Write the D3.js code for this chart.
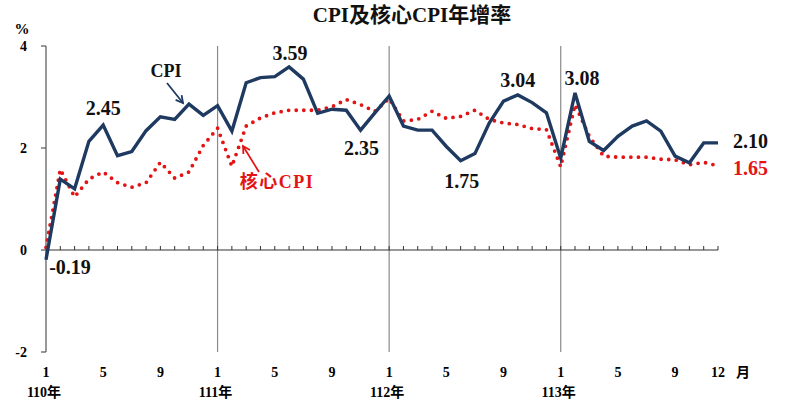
<!DOCTYPE html>
<html>
<head>
<meta charset="utf-8">
<script src="https://cdn.jsdelivr.net/npm/d3@7"></script>
<style>
  body { margin: 0; background: #fff; }
  svg text { font-family: "Liberation Serif", "Noto Sans CJK TC", serif; font-weight: bold; }
</style>
</head>
<body>
<svg id="chart" width="800" height="404"></svg>
<script>

// monthly year-on-year growth, 110/1 .. 113/12
var cpi = [-0.19, 1.39, 1.20, 2.13, 2.45, 1.85, 1.93, 2.34, 2.61, 2.56, 2.86, 2.64,
           2.83, 2.33, 3.28, 3.38, 3.40, 3.59, 3.35, 2.68, 2.76, 2.74, 2.35, 2.69,
           3.02, 2.43, 2.35, 2.35, 2.03, 1.75, 1.89, 2.49, 2.92, 3.04, 2.89, 2.69,
           1.80, 3.08, 2.13, 1.95, 2.23, 2.43, 2.53, 2.33, 1.84, 1.71, 2.10, 2.10];

var coreCpi = [0.05, 1.58, 1.04, 1.39, 1.53, 1.32, 1.23, 1.32, 1.72, 1.41, 1.53, 2.05,
               2.39, 1.64, 2.43, 2.59, 2.69, 2.74, 2.74, 2.74, 2.81, 2.95, 2.85, 2.72,
               2.97, 2.53, 2.56, 2.72, 2.58, 2.62, 2.74, 2.56, 2.49, 2.46, 2.38, 2.36,
               1.63, 2.85, 2.23, 1.84, 1.82, 1.82, 1.82, 1.78, 1.77, 1.67, 1.72, 1.65];

var monthTickIdx = [0, 4, 8, 12, 16, 20, 24, 28, 32, 36, 40, 44, 47];
var monthTickLabels = ["1", "5", "9", "1", "5", "9", "1", "5", "9", "1", "5", "9", "12"];
var yearIdx = [0, 12, 24, 36];
var yearLabels = ["110年", "111年", "112年", "113年"];
var yTicks = [-2, 0, 2, 4];

// value labels: [month index, text]
var cpiLabels = [[0, "-0.19"], [4, "2.45"], [17, "3.59"], [22, "2.35"], [29, "1.75"], [33, "3.04"], [37, "3.08"]];

var svg = d3.select("#chart");

var x = d3.scaleLinear().domain([0, 47]).range([46, 718]);
var y = d3.scaleLinear().domain([-2, 4]).range([352, 46]);

var navy = "#1f3a60", red = "#e31414";

// title
svg.append("text")
    .attr("x", 412).attr("y", 22)
    .attr("text-anchor", "middle")
    .style("font-size", "21px")
    .attr("fill", "#111")
    .text("CPI及核心CPI年增率");

// y axis
svg.append("line")
    .attr("x1", x(0)).attr("x2", x(0))
    .attr("y1", y(4)).attr("y2", y(-2))
    .attr("stroke", "#555").attr("stroke-width", 1.2);

svg.selectAll(".ytick").data(yTicks).enter().append("line")
    .attr("x1", x(0) - 5).attr("x2", x(0))
    .attr("y1", function(d) { return y(d); })
    .attr("y2", function(d) { return y(d); })
    .attr("stroke", "#555").attr("stroke-width", 1.2);

svg.selectAll(".ylab").data(yTicks).enter().append("text")
    .attr("x", 27)
    .attr("y", function(d) { return y(d) + 5; })
    .attr("text-anchor", "end")
    .style("font-size", "14px")
    .text(function(d) { return d; });

svg.append("text")
    .attr("x", 22).attr("y", 34)
    .attr("text-anchor", "middle")
    .style("font-size", "15px")
    .text("%");

// year separators
svg.selectAll(".sep").data(yearIdx.slice(1)).enter().append("line")
    .attr("x1", function(d) { return x(d); })
    .attr("x2", function(d) { return x(d); })
    .attr("y1", y(4)).attr("y2", y(-2))
    .attr("stroke", "#8a8a8a").attr("stroke-width", 1.2);

// zero line with monthly ticks
svg.append("line")
    .attr("x1", x(0)).attr("x2", x(47))
    .attr("y1", y(0)).attr("y2", y(0))
    .attr("stroke", "#333").attr("stroke-width", 1.2);

svg.selectAll(".mtick").data(d3.range(1, 48)).enter().append("line")
    .attr("x1", function(d) { return x(d); })
    .attr("x2", function(d) { return x(d); })
    .attr("y1", y(0)).attr("y2", y(0) - 4)
    .attr("stroke", "#333").attr("stroke-width", 1);

// month / year labels
svg.selectAll(".mlab").data(monthTickIdx).enter().append("text")
    .attr("x", function(d) { return x(d); })
    .attr("y", 377)
    .attr("text-anchor", "middle")
    .style("font-size", "14px")
    .text(function(d, i) { return monthTickLabels[i]; });

svg.append("text")
    .attr("x", 743).attr("y", 377)
    .attr("text-anchor", "middle")
    .style("font-size", "14px")
    .text("月");

svg.selectAll(".yrlab").data(yearIdx).enter().append("text")
    .attr("x", function(d) { return x(d) - 2; })
    .attr("y", 397)
    .attr("text-anchor", "middle")
    .style("font-size", "14px")
    .text(function(d, i) { return yearLabels[i]; });

// series
var line = d3.line()
    .x(function(d, i) { return x(i); })
    .y(function(d) { return y(d); });

svg.append("path")
    .datum(coreCpi)
    .attr("fill", "none")
    .attr("stroke", red)
    .attr("stroke-width", 3.8)
    .attr("stroke-linecap", "round")
    .attr("stroke-dasharray", "0 7.6")
    .attr("d", line);

svg.append("path")
    .datum(cpi)
    .attr("fill", "none")
    .attr("stroke", navy)
    .attr("stroke-width", 3.4)
    .attr("stroke-linejoin", "miter")
    .attr("d", line);

// value labels
var offsets = {0: [24, 14], 4: [0, -10], 17: [1, -7], 22: [1, 25], 29: [1, 27], 33: [0, -8], 37: [7, -8]};
svg.selectAll(".vlab").data(cpiLabels).enter().append("text")
    .attr("x", function(d) { return x(d[0]) + offsets[d[0]][0]; })
    .attr("y", function(d) { return y(cpi[d[0]]) + offsets[d[0]][1]; })
    .attr("text-anchor", "middle")
    .style("font-size", "20px")
    .attr("fill", "#111")
    .text(function(d) { return d[1]; });

svg.append("text")
    .attr("x", x(47) + 15).attr("y", y(cpi[47]) + 5)
    .style("font-size", "20px")
    .attr("fill", "#111")
    .text(cpi[47].toFixed(2));

svg.append("text")
    .attr("x", x(47) + 15).attr("y", y(coreCpi[47]) + 9)
    .style("font-size", "20px")
    .attr("fill", red)
    .text(coreCpi[47].toFixed(2));

// arrows with captions
function arrow(x1, y1, x2, y2, color) {
  var a = Math.atan2(y2 - y1, x2 - x1), h = 8, s = 0.5;
  svg.append("line")
      .attr("x1", x1).attr("y1", y1).attr("x2", x2).attr("y2", y2)
      .attr("stroke", color).attr("stroke-width", 1.8);
  svg.append("path")
      .attr("d", "M" + (x2 - h * Math.cos(a - s)) + "," + (y2 - h * Math.sin(a - s)) +
                 "L" + x2 + "," + y2 +
                 "L" + (x2 - h * Math.cos(a + s)) + "," + (y2 - h * Math.sin(a + s)))
      .attr("fill", "none").attr("stroke", color).attr("stroke-width", 1.8);
}

svg.append("text")
    .attr("x", 166).attr("y", 77)
    .attr("text-anchor", "middle")
    .style("font-size", "18px")
    .attr("fill", "#111")
    .text("CPI");
arrow(167, 83, 183, 103, navy);

svg.append("text")
    .attr("x", 277).attr("y", 188)
    .attr("text-anchor", "middle")
    .style("font-size", "18px")
    .style("letter-spacing", "1.5px")
    .attr("fill", red)
    .text("核心CPI");
arrow(259, 172, 243, 146, red);

</script>
</body>
</html>
